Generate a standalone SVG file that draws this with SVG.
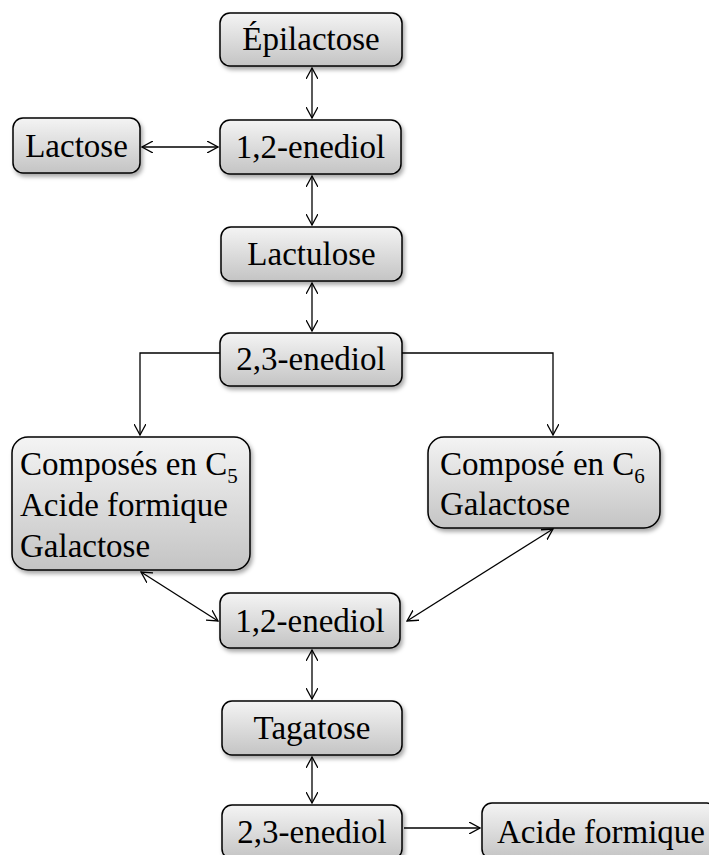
<svg xmlns="http://www.w3.org/2000/svg" width="709" height="855" viewBox="0 0 709 855">
<defs>
<linearGradient id="g" x1="0" y1="0" x2="0" y2="1">
<stop offset="0" stop-color="#f4f4f4"/>
<stop offset="1" stop-color="#c4c4c4"/>
</linearGradient>
<filter id="sh" x="-10%" y="-10%" width="125%" height="130%">
<feDropShadow dx="2" dy="3" stdDeviation="2" flood-color="#000" flood-opacity="0.35"/>
</filter>
<marker id="a" viewBox="0 0 12 12" refX="11" refY="6" markerWidth="12" markerHeight="12" markerUnits="userSpaceOnUse" orient="auto-start-reverse">
<path d="M0,0 L11,6 L0,12" fill="none" stroke="#000" stroke-width="1.3"/>
</marker>
</defs>
<style>
.b{fill:url(#g);stroke:#000;stroke-width:1.5;filter:url(#sh)}
.t{font-size:33px;fill:#000}
.c{text-anchor:middle}
.s{font-size:21px}
.l{fill:none;stroke:#000;stroke-width:1.3}
</style>
<g id="connectors">
<line class="l" x1="312" y1="68" x2="312" y2="118" marker-start="url(#a)" marker-end="url(#a)"/>
<line class="l" x1="142" y1="147" x2="218" y2="147" marker-start="url(#a)" marker-end="url(#a)"/>
<line class="l" x1="312" y1="176" x2="312" y2="225" marker-start="url(#a)" marker-end="url(#a)"/>
<line class="l" x1="312" y1="283" x2="312" y2="331" marker-start="url(#a)" marker-end="url(#a)"/>
<polyline class="l" points="220,353 140,353 140,435" marker-end="url(#a)"/>
<polyline class="l" points="402,353 553,353 553,435" marker-end="url(#a)"/>
<line class="l" x1="141" y1="572" x2="218" y2="621" marker-start="url(#a)" marker-end="url(#a)"/>
<line class="l" x1="553" y1="529" x2="407" y2="621" marker-start="url(#a)" marker-end="url(#a)"/>
<line class="l" x1="312" y1="650" x2="312" y2="699" marker-start="url(#a)" marker-end="url(#a)"/>
<line class="l" x1="312" y1="757" x2="312" y2="803" marker-start="url(#a)" marker-end="url(#a)"/>
<line class="l" x1="404" y1="828" x2="480" y2="828" marker-end="url(#a)"/>
</g>
<g id="epilactose"><rect class="b" x="220" y="13" width="182" height="53" rx="10"/><text class="t c" font-family="Liberation Serif" x="311" y="50">Épilactose</text></g>
<g id="lactose"><rect class="b" x="13" y="118" width="127" height="55" rx="10"/><text class="t c" font-family="Liberation Serif" x="76.5" y="157">Lactose</text></g>
<g id="enediol12a"><rect class="b" x="220" y="120" width="181" height="54" rx="10"/><text class="t c" font-family="Liberation Serif" x="310.5" y="158">1,2-enediol</text></g>
<g id="lactulose"><rect class="b" x="221" y="227" width="181" height="54" rx="10"/><text class="t c" font-family="Liberation Serif" x="311.5" y="265">Lactulose</text></g>
<g id="enediol23a"><rect class="b" x="220" y="333" width="182" height="53" rx="10"/><text class="t c" font-family="Liberation Serif" x="311" y="370">2,3-enediol</text></g>
<g id="c5"><rect class="b" x="12" y="437" width="238" height="133" rx="16"/>
<text class="t" font-family="Liberation Serif" x="20" y="475">Composés en C<tspan class="s" dy="8">5</tspan></text>
<text class="t" font-family="Liberation Serif" x="20" y="516">Acide formique</text>
<text class="t" font-family="Liberation Serif" x="20" y="557">Galactose</text></g>
<g id="c6"><rect class="b" x="428" y="437" width="232" height="91" rx="16"/>
<text class="t" font-family="Liberation Serif" x="440" y="475">Composé en C<tspan class="s" dy="8">6</tspan></text>
<text class="t" font-family="Liberation Serif" x="440" y="515">Galactose</text></g>
<g id="enediol12b"><rect class="b" x="220" y="593" width="180" height="55" rx="10"/><text class="t c" font-family="Liberation Serif" x="310" y="632">1,2-enediol</text></g>
<g id="tagatose"><rect class="b" x="222" y="701" width="180" height="54" rx="10"/><text class="t c" font-family="Liberation Serif" x="312" y="739">Tagatose</text></g>
<g id="enediol23b"><rect class="b" x="222" y="805" width="180" height="54" rx="10"/><text class="t c" font-family="Liberation Serif" x="312" y="843">2,3-enediol</text></g>
<g id="acide"><rect class="b" x="482" y="803" width="235" height="56" rx="10"/><text class="t" font-family="Liberation Serif" x="497" y="843">Acide formique</text></g>
</svg>
